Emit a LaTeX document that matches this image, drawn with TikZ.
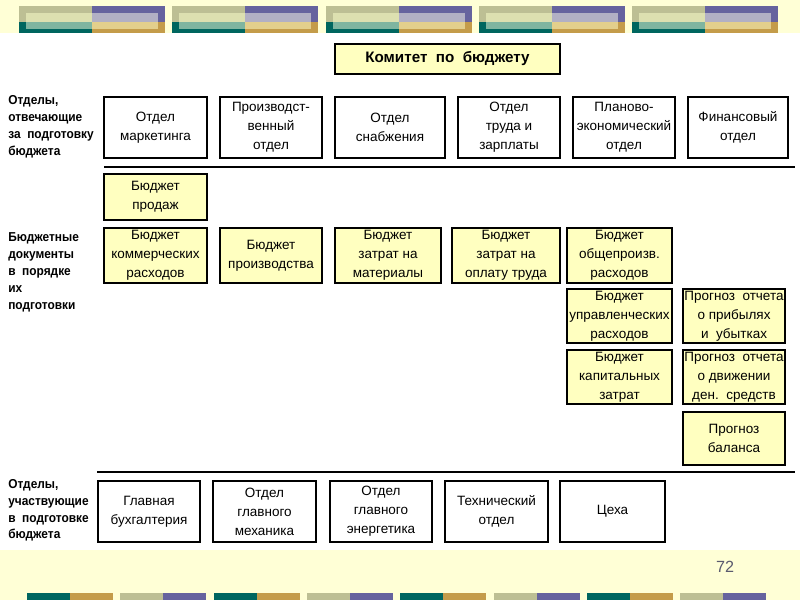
\documentclass[tikz,border=0pt]{standalone}
\usepackage{fontspec}
\setmainfont{Liberation Sans}
\newfontfamily\labelfont[FakeStretch=0.92]{Liberation Sans}
\usetikzlibrary{positioning}
\definecolor{pagebg}{HTML}{FFFFD6}
\definecolor{boxyellow}{HTML}{FFFFC0}
\definecolor{khaki}{HTML}{BDBF94}
\definecolor{khakilight}{HTML}{DDE0B0}
\definecolor{violet}{HTML}{66639E}
\definecolor{violetlight}{HTML}{B2B0C4}
\definecolor{teal}{HTML}{00665F}
\definecolor{teallight}{HTML}{7FB5A0}
\definecolor{gold}{HTML}{C49C4A}
\definecolor{goldlight}{HTML}{E3CF8C}
\definecolor{pagenum}{HTML}{5A5A6E}

\begin{document}
\begin{tikzpicture}[x=0.025cm, y=-0.025cm]

		\tikzstyle{dept} = [draw=black, rectangle, line width=1pt, fill=white, align=center, inner sep=0pt, minimum height=1.525cm, font=\fontsize{9.6}{13.4}\selectfont]
		\tikzstyle{budget} = [dept, fill=boxyellow, minimum height=1.375cm]
		\tikzstyle{rowlabel} = [anchor=north west, align=left, inner sep=0pt, font=\labelfont\fontsize{9.2}{12}\selectfont\bfseries]
		\tikzstyle{sepline} = [line width=2pt, draw=black]

		\useasboundingbox (0,0) rectangle (800,600);
		\fill[pagebg] (0,0) rectangle (800,600);
		\fill[white] (0,33) rectangle (800,550);

		\foreach \gx in {19,172.3,325.6,479,632.3} {
			\fill[khaki] (\gx,6) rectangle ++(73,15.5);
			\fill[violet] (\gx+73,6) rectangle ++(73,15.5);
			\fill[teal] (\gx,21.5) rectangle ++(73,11.5);
			\fill[gold] (\gx+73,21.5) rectangle ++(73,11.5);
			\fill[khakilight] (\gx+7,13.3) rectangle (\gx+73,21.5);
			\fill[violetlight] (\gx+73,13.3) rectangle (\gx+139,21.5);
			\fill[teallight] (\gx+7,21.5) rectangle (\gx+73,29.3);
			\fill[goldlight] (\gx+73,21.5) rectangle (\gx+139,29.3);
		}
		\foreach \bx/\ca/\cb in {27/teal/gold,120.3/khaki/violet,213.6/teal/gold,307/khaki/violet,400.3/teal/gold,493.6/khaki/violet,587/teal/gold,680.3/khaki/violet} {
			\fill[\ca] (\bx,593) rectangle ++(43,7);
			\fill[\cb] (\bx+43,593) rectangle ++(43,7);
		}

		\node[draw=black, line width=1.4pt, fill=boxyellow, minimum width=5.625cm, minimum height=0.75cm, font=\fontsize{10.8}{13}\selectfont\bfseries] (committee) at (447.5,59) {Комитет\ \ по\ \ бюджету};

		\node[rowlabel] (lbl_resp) at (8,95.5) {Отделы,\\отвечающие\\за\ \ подготовку\\бюджета};
		\node[rowlabel] (lbl_docs) at (8,232.5) {Бюджетные\\документы\\в\ \ порядке\\их\\подготовки};
		\node[rowlabel] (lbl_part) at (8,479) {Отделы,\\участвующие\\в\ \ подготовке\\бюджета};

		\node[dept, minimum width=2.575cm] (marketing) at (155.5,127.5) {Отдел\\маркетинга};
		\node[dept, minimum width=2.55cm] (production) at (271,127.5) {Производст-\\венный\\отдел};
		\node[dept, minimum width=2.75cm] (supply) at (390,127.5) {Отдел\\снабжения};
		\node[dept, minimum width=2.55cm] (labour) at (509,127.5) {Отдел\\труда и\\зарплаты};
		\node[dept, minimum width=2.55cm] (planning) at (624,127.5) {Планово-\\экономический\\отдел};
		\node[dept, minimum width=2.5cm] (finance) at (738,127.5) {Финансовый\\отдел};

		\coordinate (top_rule_l) at (104,167);
		\coordinate (top_rule_r) at (795,167);
		\draw[sepline] (top_rule_l) -- (top_rule_r);

		\node[budget, minimum width=2.575cm, minimum height=1.15cm] (sales) at (155.5,197) {Бюджет\\продаж};

		\node[budget, minimum width=2.575cm] (commercial) at (155.5,255.5) {Бюджет\\коммерческих\\расходов};
		\node[budget, minimum width=2.55cm] (prod_budget) at (271,255.5) {Бюджет\\производства};
		\node[budget, minimum width=2.65cm] (materials) at (388,255.5) {Бюджет\\затрат на\\материалы};
		\node[budget, minimum width=2.7cm] (wages) at (506,255.5) {Бюджет\\затрат на\\оплату труда};
		\node[budget, minimum width=2.625cm] (overhead) at (619.5,255.5) {Бюджет\\общепроизв.\\расходов};

		\node[budget, minimum width=2.625cm, minimum height=1.35cm] (admin) at (619.5,316) {Бюджет\\управленческих\\расходов};
		\node[budget, minimum width=2.55cm, minimum height=1.35cm] (pnl) at (734,316) {Прогноз\ \ отчета\\о прибылях\\и\ \ убытках};

		\node[budget, minimum width=2.625cm, minimum height=1.35cm] (capex) at (619.5,377) {Бюджет\\капитальных\\затрат};
		\node[budget, minimum width=2.55cm, minimum height=1.35cm] (cashflow) at (734,377) {Прогноз\ \ отчета\\о движении\\ден.\ \ средств};

		\node[budget, minimum width=2.55cm, minimum height=1.325cm] (balance) at (734,438.5) {Прогноз\\баланса};

		\coordinate (bot_rule_l) at (97,472);
		\coordinate (bot_rule_r) at (795,472);
		\draw[sepline] (bot_rule_l) -- (bot_rule_r);

		\node[dept, minimum width=2.55cm] (accounting) at (149,511.5) {Главная\\бухгалтерия};
		\node[dept, minimum width=2.575cm] (mechanic) at (264.5,511.5) {Отдел\\главного\\механика};
		\node[dept, minimum width=2.55cm] (energy) at (381,511.5) {Отдел\\главного\\энергетика};
		\node[dept, minimum width=2.575cm] (technical) at (496.5,511.5) {Технический\\отдел};
		\node[dept, minimum width=2.625cm] (shops) at (612.5,511.5) {Цеха};

		\node[text=pagenum, font=\fontsize{11.5}{13}\selectfont] (page_no) at (725,567) {72};

	\end{tikzpicture}
\end{document}
